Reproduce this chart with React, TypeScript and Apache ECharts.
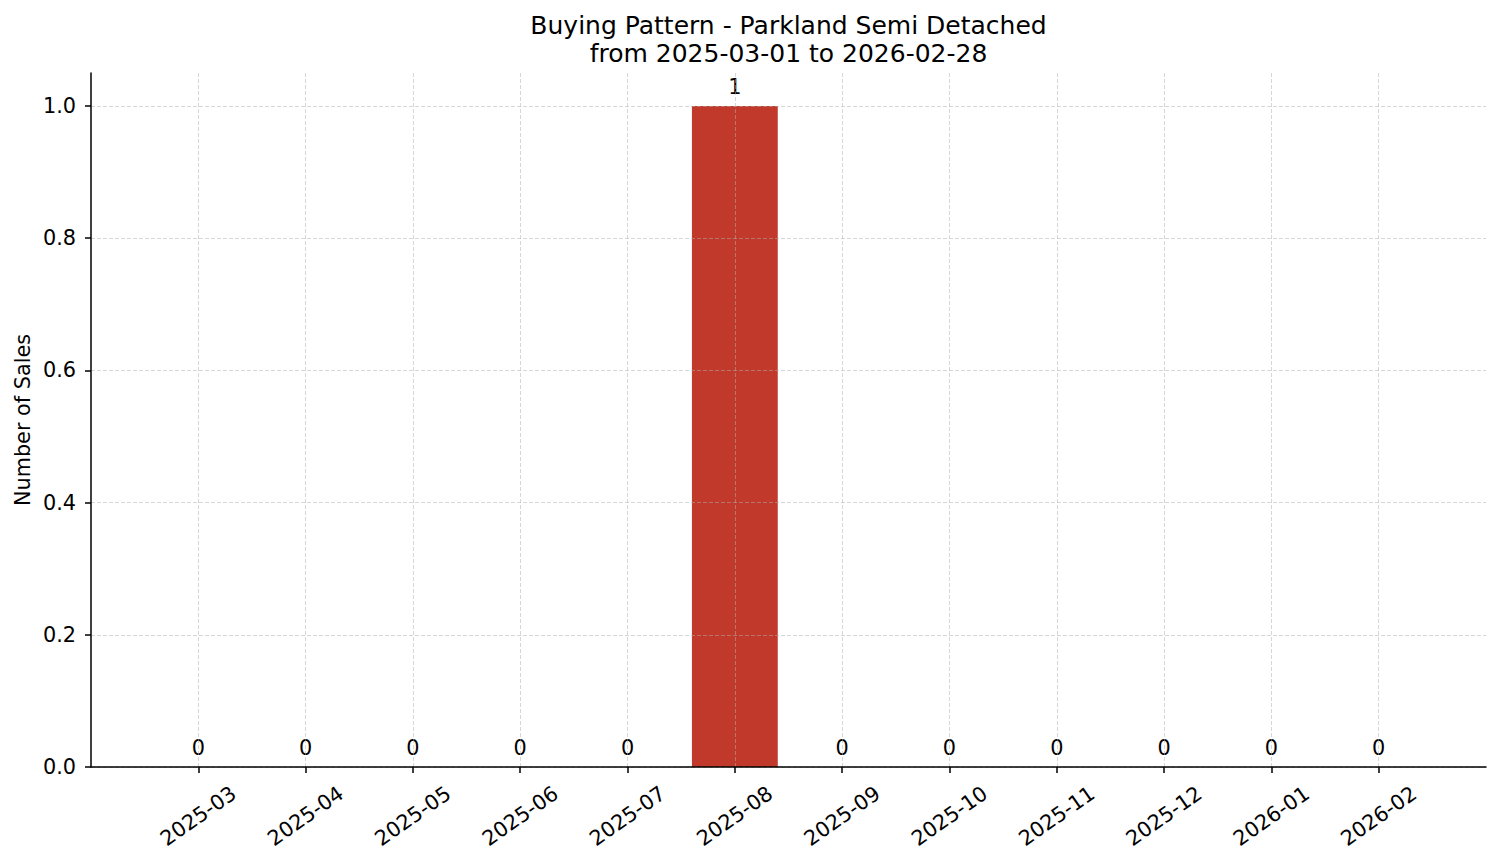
import React, { useEffect, useRef } from "react";
import * as echarts from "echarts";

const TITLE_LINE1 = "Buying Pattern - Parkland Semi Detached";
const TITLE_LINE2 = "from 2025-03-01 to 2026-02-28";
const Y_NAME = "Number of Sales";

const months = [
  "2025-03", "2025-04", "2025-05", "2025-06", "2025-07", "2025-08",
  "2025-09", "2025-10", "2025-11", "2025-12", "2026-01", "2026-02",
];
const sales = [0, 0, 0, 0, 0, 1, 0, 0, 0, 0, 0, 0];
const yTicks = [0, 0.2, 0.4, 0.6, 0.8, 1.0];

const FONT = "DejaVu Sans";

export default function App() {
  const ref = useRef<HTMLDivElement>(null);

  useEffect(() => {
    if (!ref.current) return;
    const chart = echarts.init(ref.current, null, { renderer: "svg" });

    // pad one empty slot each side (matplotlib-like x limits)
    const cats = ["", ...months, ""];
    const vals: any[] = ["-", ...sales, "-"];
    const inner = (i: number) => i > 0 && i < cats.length - 1;

    const gridLine = {
      show: true,
      lineStyle: { color: "rgba(176,176,176,0.5)", type: [4, 2], width: 1 },
    };
    const spine = { color: "#000", width: 1.5 };

    chart.setOption({
      animation: false,
      backgroundColor: "#fff",
      textStyle: { fontFamily: FONT },
      grid: { left: 91, right: 15, top: 73, bottom: 96, containLabel: false },
      graphic: [
        {
          type: "text",
          x: 788.5,
          y: 25,
          style: {
            text: TITLE_LINE1,
            fontFamily: FONT,
            fontSize: 25,
            fill: "#000",
            textAlign: "center",
            textVerticalAlign: "middle",
          },
        },
        {
          type: "text",
          x: 788.5,
          y: 53,
          style: {
            text: TITLE_LINE2,
            fontFamily: FONT,
            fontSize: 25,
            fill: "#000",
            textAlign: "center",
            textVerticalAlign: "middle",
          },
        },
        {
          type: "text",
          x: 23,
          y: 420,
          rotation: Math.PI / 2,
          style: {
            text: Y_NAME,
            fontFamily: FONT,
            fontSize: 20.8,
            fill: "#000",
            textAlign: "center",
            textVerticalAlign: "middle",
          },
        },
      ],
      xAxis: {
        type: "category",
        data: cats,
        boundaryGap: false,
        z: 5,
        axisLine: { show: true, lineStyle: spine },
        axisTick: {
          show: true,
          interval: (i: number) => inner(i),
          length: 6,
          lineStyle: spine,
        },
        axisLabel: {
          interval: (i: number) => inner(i),
          rotate: 35,
          align: "center",
          verticalAlign: "middle",
          margin: 49,
          fontFamily: FONT,
          fontSize: 20.8,
          color: "#000",
        },
        splitLine: { ...gridLine, interval: (i: number) => inner(i) },
      },
      yAxis: {
        type: "value",
        min: 0,
        max: 1.05,
        z: 5,
        axisLine: { show: true, lineStyle: spine },
        axisTick: { show: true, length: 6, lineStyle: spine, customValues: yTicks },
        axisLabel: {
          customValues: yTicks,
          formatter: (v: number) => v.toFixed(1),
          margin: 15,
          fontFamily: FONT,
          fontSize: 20.8,
          color: "#000",
        },
        splitLine: gridLine,
      },
      series: [
        {
          type: "bar",
          data: vals,
          barWidth: "80%",
          itemStyle: { color: "#c0392b" },
          label: {
            show: true,
            position: "top",
            distance: 9,
            fontFamily: FONT,
            fontSize: 20.8,
            color: "#000",
          },
        },
      ],
    });

    return () => chart.dispose();
  }, []);

  return (
    <div
      ref={ref}
      style={{ position: "fixed", left: 0, top: 0, width: 1501, height: 863 }}
    />
  );
}
